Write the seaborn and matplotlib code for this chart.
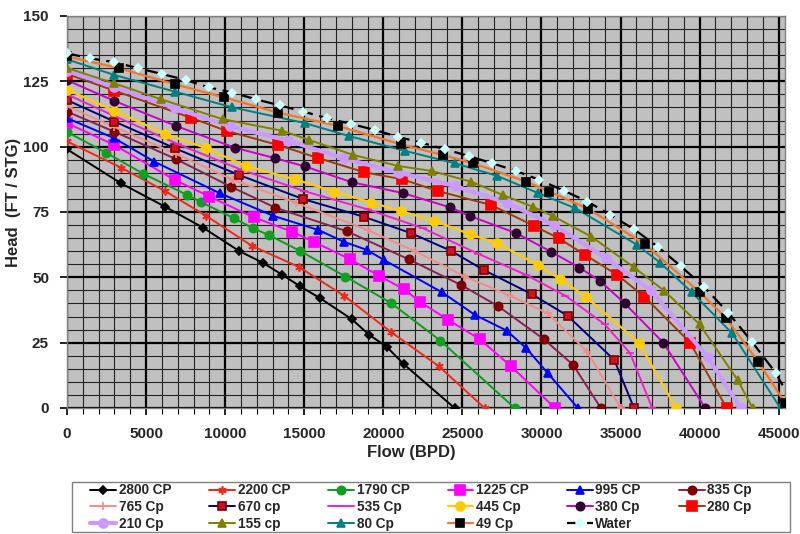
import matplotlib
matplotlib.use("Agg")
import matplotlib.pyplot as plt
from matplotlib.patches import Rectangle
from matplotlib.ticker import MultipleLocator
import seaborn as sns
import pandas as pd

# Pump head curves by fluid viscosity (flow in BPD, head in ft per stage)
labels = ["2800 CP", "2200 CP", "1790 CP", "1225 CP", "995 CP", "835 Cp",
          "765 Cp", "670 cp", "535 Cp", "445 Cp", "380 Cp", "280 Cp",
          "210 Cp", "155 cp", "80 Cp", "49 Cp", "Water"]

flow_2800 = [0, 3400, 6200, 8600, 10900, 12400, 13600, 14750, 16000, 18000, 19100, 20200, 21300, 24500]
head_2800 = [99, 86, 77, 69, 60, 55.5, 51, 46.5, 42, 34, 28, 23.5, 16.7, 0]

flow_2200 = [0, 3400, 6200, 8800, 11700, 14650, 17500, 20500, 23500, 26400]
head_2200 = [102, 92, 83, 73.5, 62, 54, 43, 29, 16, 0]

flow_1790 = [0, 2460, 4830, 7600, 8500, 10550, 11750, 12750, 14700, 17600, 20500, 23600, 28300]
head_1790 = [105.6, 97.7, 89.6, 81.5, 78.7, 72.6, 68.8, 66.2, 60.2, 50.3, 40.1, 25.8, 0]

flow_1225 = [0, 3000, 6800, 9000, 11800, 14200, 15600, 17900, 19750, 21300, 22300, 24100, 26100, 28050, 30850]
head_1225 = [109, 100.6, 87.3, 80.9, 73, 67.5, 63.6, 56.9, 50.5, 45.5, 40.7, 33.7, 26.3, 16.1, 0]

flow_995 = [0, 3000, 5500, 9650, 13050, 15900, 17500, 18950, 20050, 23700, 25800, 27800, 29050, 30400, 32300]
head_995 = [110.9, 103.2, 94.3, 82.2, 73.5, 68.1, 63.6, 60.5, 56.6, 44.3, 35.6, 29.6, 22.8, 13.3, 0]

flow_835 = [0, 3000, 6900, 10350, 13150, 17700, 21600, 24900, 27250, 30150, 32000, 33750]
head_835 = [113.4, 105.7, 95.2, 84.7, 76.7, 67.6, 56.9, 47.1, 39, 26.3, 16.5, 0]

flow_765 = [0, 3000, 6900, 10500, 14500, 19000, 22000, 25150, 28000, 30400, 32900, 35000]
head_765 = [115.5, 107.5, 97.2, 87.3, 78.5, 68.1, 60, 50.3, 43, 36.2, 21.5, 0]

flow_670 = [0, 3000, 6850, 10850, 14950, 18750, 21750, 24250, 26350, 29400, 31650, 34600, 35850]
head_670 = [117.8, 109.6, 99.3, 89.2, 79.9, 73.2, 66.9, 60.2, 52.8, 43.5, 35.3, 18.4, 0]

flow_535 = [0, 3000, 7000, 11000, 15000, 19000, 22500, 26000, 29000, 31500, 34000, 35600, 37000]
head_535 = [120, 111.7, 101, 91.2, 83, 76, 68.8, 59, 51, 43, 32, 21, 0]

flow_445 = [0, 3000, 6200, 8800, 11300, 14400, 16900, 19250, 21100, 23200, 25450, 27200, 29800, 31200, 32800, 36150, 38500]
head_445 = [121.8, 113.8, 104.9, 99.4, 92.6, 87.5, 82.8, 78.6, 75.4, 71.6, 66.6, 63, 54.7, 49.2, 42.6, 25, 0]

flow_380 = [0, 2950, 6900, 10600, 13150, 15050, 18000, 21250, 24200, 25450, 28400, 30600, 32400, 33700, 35250, 37700, 40350]
head_380 = [125.4, 117.6, 107.9, 99.6, 95.6, 92.4, 86.4, 82.2, 76.8, 73.5, 66.9, 59.8, 53.7, 48.6, 40.1, 25, 0]

flow_280 = [0, 3000, 7850, 10100, 13350, 15900, 18800, 21200, 23450, 26800, 29550, 31100, 32750, 34800, 36500, 39400, 41700]
head_280 = [127.8, 121.4, 111, 106, 100.6, 95.6, 90.2, 87.5, 83, 77.7, 69.6, 64.9, 58.6, 50.9, 42.6, 25, 0]

flow_210 = [0, 3000, 6800, 10300, 14000, 17500, 21000, 24500, 27800, 30800, 34100, 36900, 40500, 42600]
head_210 = [129, 122.8, 114.7, 107.8, 102.3, 95.5, 90, 85, 78.5, 70, 57.3, 45, 19.5, 0]

flow_155 = [0, 3000, 5950, 9850, 13600, 15300, 18100, 20950, 23050, 25550, 27550, 29450, 30700, 33150, 35850, 37750, 40000, 42400, 43350]
head_155 = [130.1, 124.2, 118.1, 110.5, 106.1, 102.6, 96.8, 92.6, 90.7, 86.6, 81.5, 77, 73.5, 65.6, 53.8, 44.9, 32, 10.7, 0]

flow_80 = [0, 3000, 6850, 10400, 15050, 17800, 21350, 24550, 27200, 29800, 32150, 36050, 37500, 39500, 42050, 45100]
head_80 = [133.4, 127.4, 121, 115.1, 109, 104.1, 98.4, 93.6, 88.8, 82.2, 76.4, 62.4, 55.6, 44.3, 28.6, 0]

flow_49 = [0, 3300, 6850, 9900, 13350, 17150, 21100, 23750, 25700, 29050, 30500, 32950, 36550, 40000, 41650, 43700, 45400]
head_49 = [134.5, 130, 123.8, 118.9, 113, 107.9, 100.9, 96.8, 93.6, 86.6, 82.8, 76.2, 62.6, 44.3, 34.6, 17.7, 2]

flow_water = [0, 1450, 3000, 4500, 6000, 7500, 8950, 10450, 11950, 13450, 14950, 16450, 17950, 19450, 20900,
              22400, 23900, 25400, 26900, 28400, 29850, 31400, 32900, 34350, 35850, 37350, 38800, 40300, 41800,
              43300, 44800, 45400]
head_water = [135.7, 133.8, 132.3, 130, 127.8, 125.5, 122.7, 120.7, 118.1, 115.8, 113.4, 110.9, 108.7, 106.4, 103.8,
              101.5, 99, 96.4, 93.6, 90.7, 87.3, 83.2, 79, 73.9, 68.4, 61.7, 54.3, 46.2, 36.5,
              25.4, 13.5, 7]

flows = [flow_2800, flow_2200, flow_1790, flow_1225, flow_995, flow_835, flow_765, flow_670, flow_535,
         flow_445, flow_380, flow_280, flow_210, flow_155, flow_80, flow_49, flow_water]
heads = [head_2800, head_2200, head_1790, head_1225, head_995, head_835, head_765, head_670, head_535,
         head_445, head_380, head_280, head_210, head_155, head_80, head_49, head_water]

# line colour, marker, marker face, marker edge, marker size, line width
styles = {
    "2800 CP": ("#000000", "D", "#000000", "#000000", 4, 1.4),
    "2200 CP": ("#F02818", (6, 2, 0), "#F02818", "#F02818", 6, 1.4),
    "1790 CP": ("#0E9A1E", "o", "#10A020", "#10A020", 6, 1.4),
    "1225 CP": ("#FF00FF", "s", "#FF00FF", "#FF00FF", 6.5, 1.4),
    "995 CP": ("#0000FF", "^", "#0000FF", "#0000FF", 6, 1.4),
    "835 Cp": ("#8A1F55", "o", "#800000", "#800000", 6, 1.4),
    "765 Cp": ("#F78A8A", "+", "#F78A8A", "#F78A8A", 6, 1.4),
    "670 cp": ("#000080", "s", "#D01020", "#800000", 5.5, 1.4),
    "535 Cp": ("#F020D0", "_", "#F020D0", "#F020D0", 6, 1.4),
    "445 Cp": ("#FFCC00", "o", "#FFCC00", "#FFCC00", 6.5, 1.6),
    "380 Cp": ("#CC00CC", "o", "#300030", "#300030", 6, 1.4),
    "280 Cp": ("#9C3A10", "s", "#FF0000", "#FF0000", 7, 1.4),
    "210 Cp": ("#CC99FF", "o", "#CC99FF", "#CC99FF", 6.5, 3.0),
    "155 cp": ("#808000", "^", "#808000", "#808000", 6, 1.4),
    "80 Cp": ("#008080", "^", "#008080", "#008080", 6, 1.4),
    "49 Cp": ("#F07828", "s", "#000000", "#000000", 6, 1.6),
    "Water": ("#000000", "D", "#CCFFFF", "#CCFFFF", 4.5, 1.6),
}

sns.set_theme(style="white")
plt.rcParams["font.family"] = ["Liberation Sans", "DejaVu Sans"]
plt.rcParams["font.weight"] = "bold"

fig = plt.figure(figsize=(8.0, 5.34), dpi=100)
ax = fig.add_axes([0.0838, 0.2360, 0.8975, 0.7341])
ax.set_facecolor("#C0C0C0")

handles = {}
for name, fx, hy in zip(labels, flows, heads):
    color, mk, mfc, mec, ms, lw = styles[name]
    df = pd.DataFrame({"Flow": fx, "Head": hy})
    extra = {}
    if name == "Water":
        extra = dict(linestyle=(0, (6, 3)), markevery=list(range(len(fx) - 1)))
    sns.lineplot(data=df, x="Flow", y="Head", ax=ax, color=color, marker=mk,
                 markerfacecolor=mfc, markeredgecolor=mec, markersize=ms,
                 markeredgewidth=1.2, linewidth=lw, sort=False, label=name,
                 estimator=None, zorder=3, **extra)
    handles[name] = ax.lines[-1]

ax.set_xlim(0, 45400)
ax.set_ylim(0, 150)
ax.xaxis.set_major_locator(MultipleLocator(5000))
ax.xaxis.set_minor_locator(MultipleLocator(1000))
ax.yaxis.set_major_locator(MultipleLocator(25))
ax.yaxis.set_minor_locator(MultipleLocator(5))
ax.grid(which="major", color="#000000", linewidth=1.6, zorder=1)
ax.grid(which="minor", color="#222222", linewidth=0.8, zorder=1)
ax.set_axisbelow(True)
ax.tick_params(axis="both", which="major", labelsize=11, length=5, color="#000000", width=1.2,
               direction="out", bottom=True, left=True)
ax.tick_params(axis="x", which="minor", length=4, color="#000000", width=0.8, bottom=True)
ax.tick_params(axis="y", which="minor", length=0)
ax.tick_params(axis="x", which="major", pad=9)
ax.tick_params(axis="y", which="major", pad=8)
for t in ax.get_xticklabels() + ax.get_yticklabels():
    t.set_fontweight("bold")
for s in ax.spines.values():
    s.set_color("#808080")
    s.set_linewidth(1.0)

ax.set_xlabel("Flow (BPD)", fontsize=12, fontweight="bold")
ax.set_ylabel("Head  (FT / STG)", fontsize=12, fontweight="bold")
ax.xaxis.set_label_coords((412 - 67.7) / 718, -(453 - 408) / 392)
ax.xaxis.label.set_va("center")
ax.yaxis.set_label_coords((14 - 67.7) / 718, (408 - 202) / 392)
ax.yaxis.label.set_va("center")

# legend entries read row by row across six columns
rows = [labels[0:6], labels[6:12], labels[12:17]]
order = []
for j in range(6):
    for r in rows:
        if j < len(r):
            order.append(r[j])
leg = ax.legend([handles[n] for n in order], order, ncol=6, loc="center",
                bbox_to_anchor=(0.1125, 0.0037, 0.8275, 0.0936), bbox_transform=fig.transFigure,
                mode="expand", frameon=False, fontsize=9.8, handlelength=1.9, handletextpad=0.2,
                borderpad=0.0, labelspacing=0.2, columnspacing=1.0, borderaxespad=0)
for t in leg.get_texts():
    t.set_fontweight("bold")

# legend border box
fig.patches.append(Rectangle((0.09, 0.0037), 0.8975, 0.0936, transform=fig.transFigure,
                             facecolor="none", edgecolor="#808080", linewidth=1.0))

fig.savefig("out.png", dpi=100, facecolor="white")
